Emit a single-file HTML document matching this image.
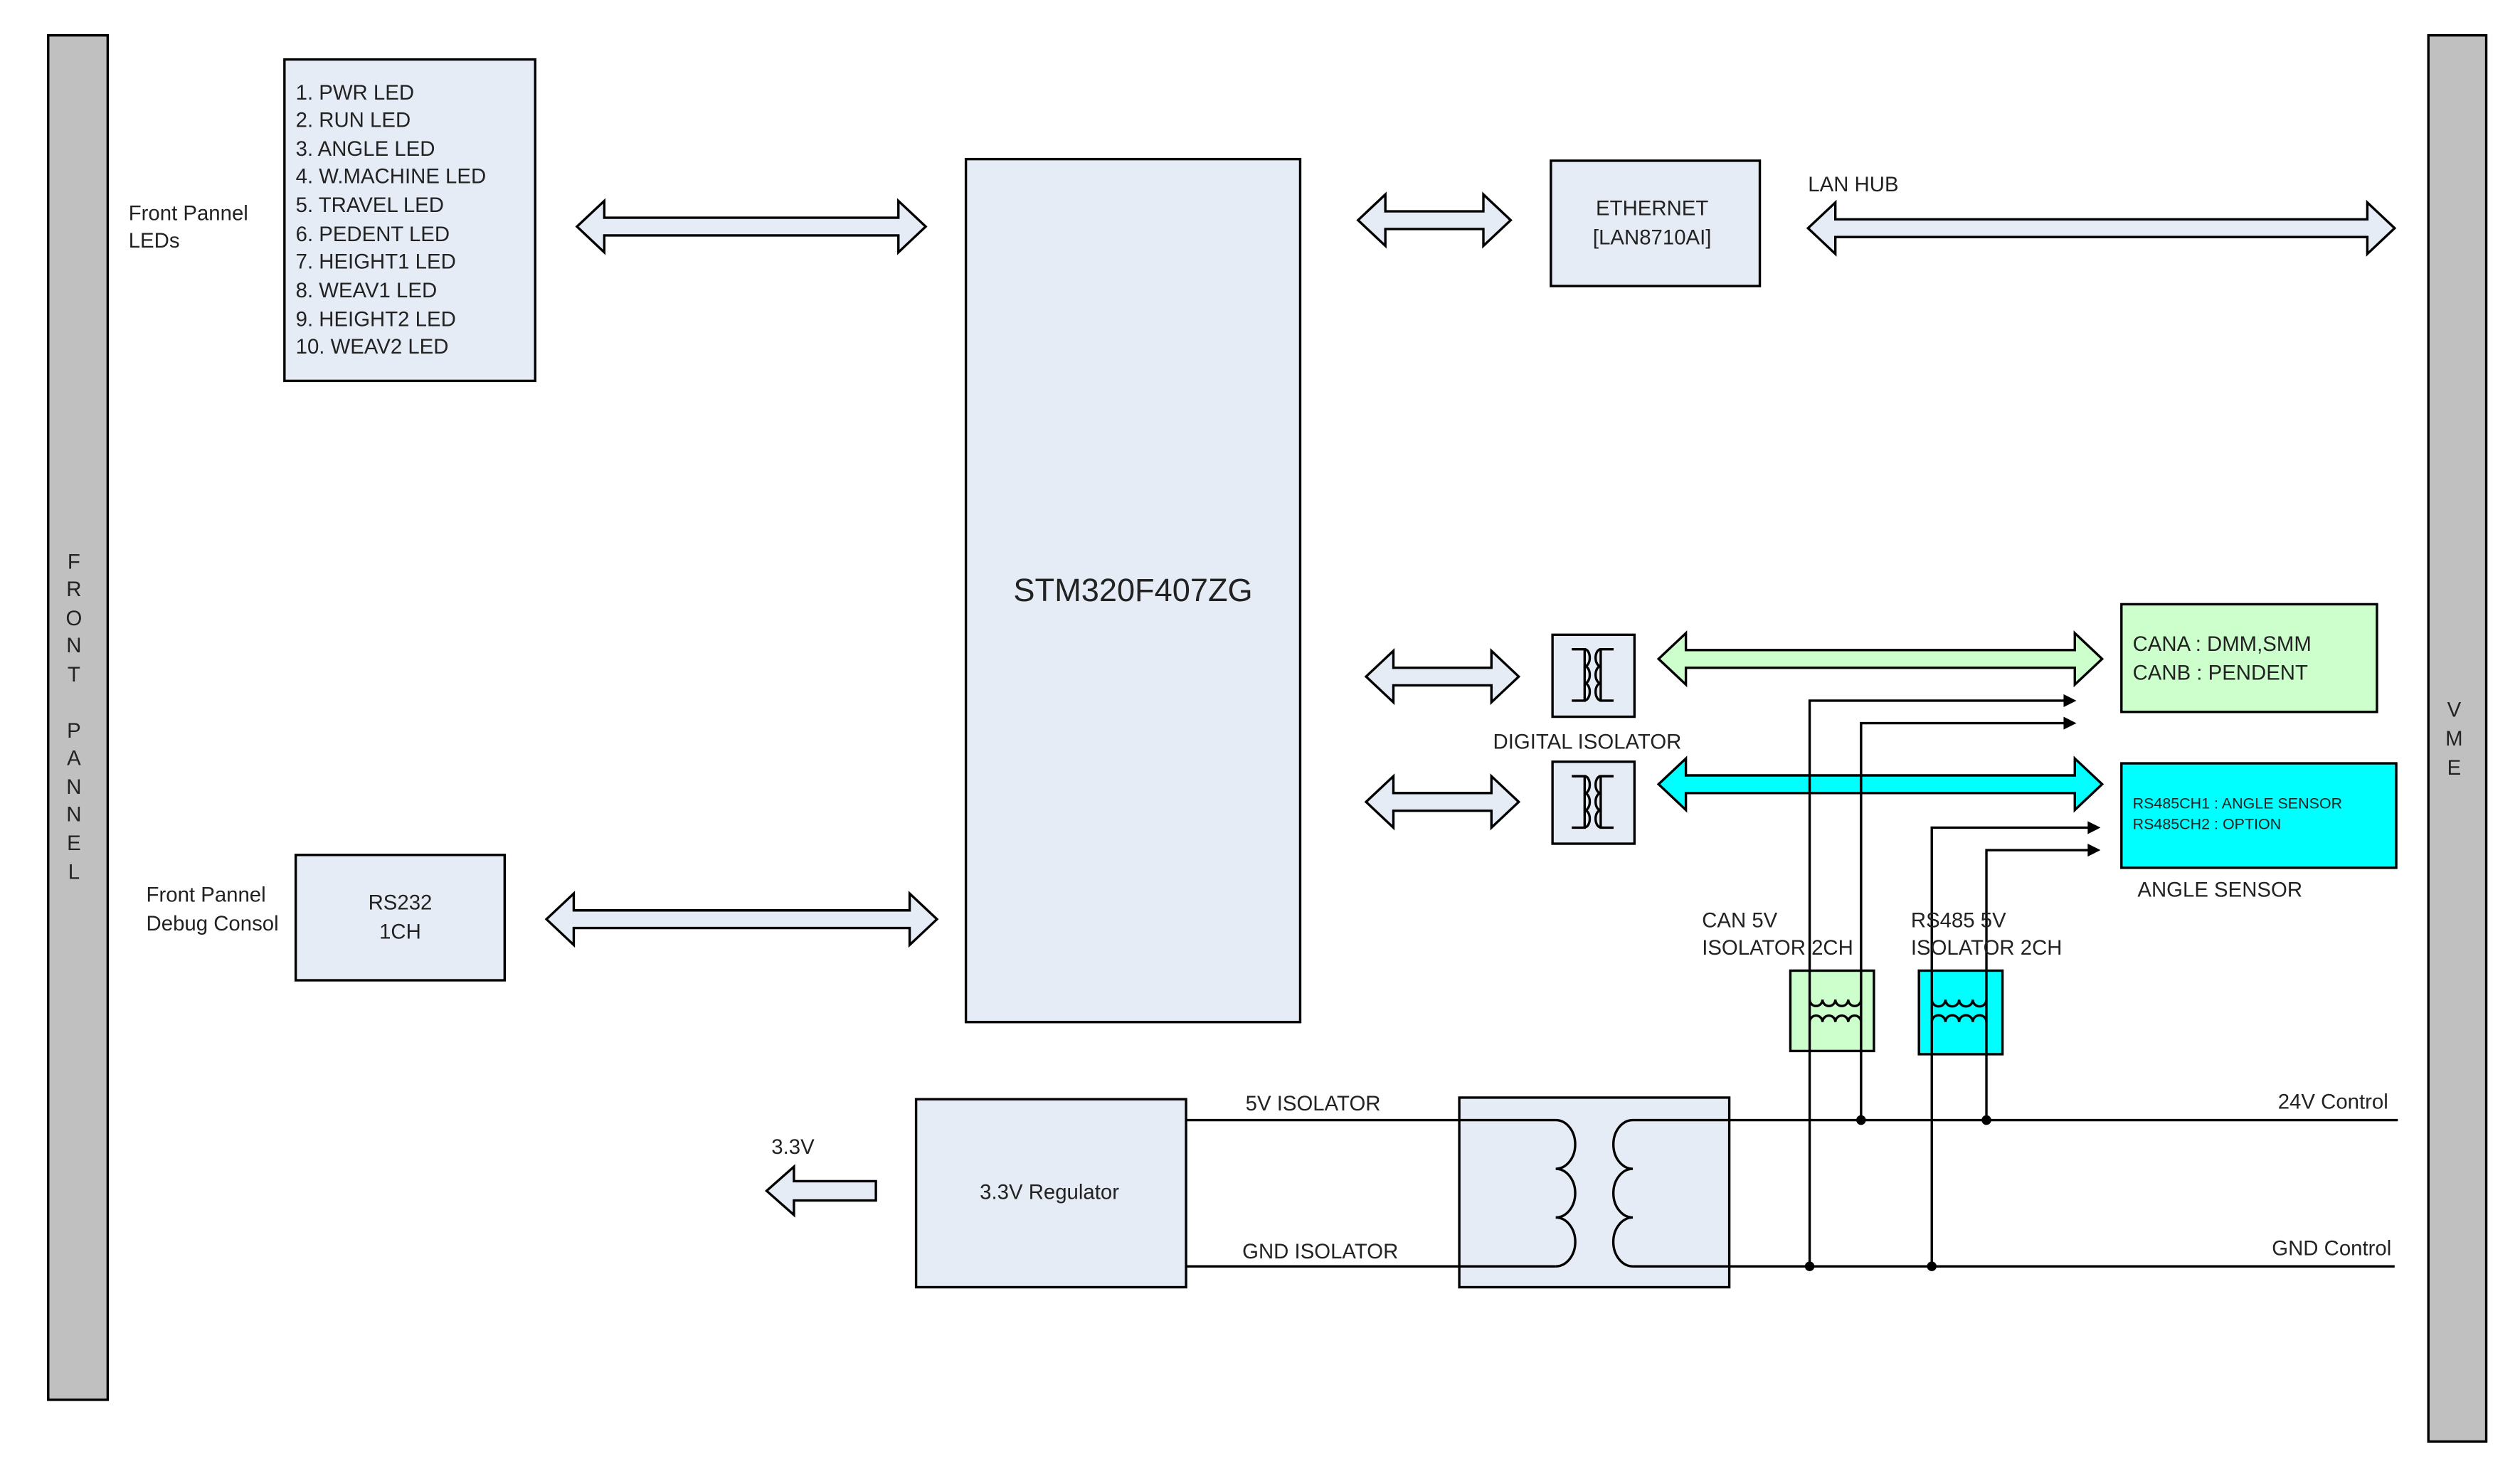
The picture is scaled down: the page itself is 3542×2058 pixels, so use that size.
<!DOCTYPE html>
<html><head><meta charset="utf-8"><style>
html,body{margin:0;padding:0;background:#fff}
svg{display:block}
text{font-family:"Liberation Sans",sans-serif;fill:#222}
</style></head><body>
<svg width="3542" height="2058" viewBox="0 0 1568 911" preserveAspectRatio="none" xmlns="http://www.w3.org/2000/svg">
<g stroke="#000" stroke-width="1.5">
<rect x="30" y="22" width="37" height="849" fill="#c0c0c0"/>
<rect x="1511" y="22" width="36" height="875" fill="#c0c0c0"/>
<rect x="177" y="37" width="156" height="200" fill="#e6ecf6"/>
<rect x="601" y="99" width="208" height="537" fill="#e6ecf6"/>
<rect x="965" y="100" width="130" height="78" fill="#e6ecf6"/>
<rect x="966" y="395" width="51" height="51" fill="#e6ecf6"/>
<rect x="966" y="474" width="51" height="51" fill="#e6ecf6"/>
<rect x="1320" y="376" width="159" height="67" fill="#ccffcc"/>
<rect x="1320" y="475" width="171" height="65" fill="#00ffff"/>
<rect x="184" y="532" width="130" height="78" fill="#e6ecf6"/>
<rect x="570" y="684" width="168" height="117" fill="#e6ecf6"/>
<rect x="908" y="683" width="168" height="118" fill="#e6ecf6"/>
<rect x="1114" y="604" width="52" height="50" fill="#ccffcc"/>
<rect x="1194" y="604" width="52" height="52" fill="#00ffff"/>
</g>
<g stroke="#000" stroke-width="1.5" fill="#e6ecf6">
<polygon points="359,141 376,125 376,135.5 559,135.5 559,125 576,141 559,157 559,146.5 376,146.5 376,157"/>
<polygon points="845,137 862,121 862,131.5 923,131.5 923,121 940,137 923,153 923,142.5 862,142.5 862,153"/>
<polygon points="1125,142 1142,126 1142,136.5 1473,136.5 1473,126 1490,142 1473,158 1473,147.5 1142,147.5 1142,158"/>
<polygon points="850,421 867,405 867,415.5 928,415.5 928,405 945,421 928,437 928,426.5 867,426.5 867,437"/>
<polygon points="850,499 867,483 867,493.5 928,493.5 928,483 945,499 928,515 928,504.5 867,504.5 867,515"/>
<polygon fill="#ccffcc" points="1032,410 1049,394 1049,404.5 1291,404.5 1291,394 1308,410 1291,426 1291,415.5 1049,415.5 1049,426"/>
<polygon fill="#00ffff" points="1032,488 1049,472 1049,482.5 1291,482.5 1291,472 1308,488 1291,504 1291,493.5 1049,493.5 1049,504"/>
<polygon points="340,572 357,556 357,566.5 566,566.5 566,556 583,572 566,588 566,577.5 357,577.5 357,588"/>
<polygon points="477,741 494,726 494,735 545,735 545,747 494,747 494,756"/>
</g>
<g stroke="#000" stroke-width="1.5" fill="none">
<path d="M978,404 H986 V436 H978 M986,404 a3,5 0 0 1 0,10.6 a3,5 0 0 1 0,10.6 a3,5 0 0 1 0,10.6"/>
<path d="M1004,404 H996 V436 H1004 M996,404 a3,5 0 0 0 0,10.6 a3,5 0 0 0 0,10.6 a3,5 0 0 0 0,10.6"/>
<path d="M978,483 H986 V515 H978 M986,483 a3,5 0 0 1 0,10.6 a3,5 0 0 1 0,10.6 a3,5 0 0 1 0,10.6"/>
<path d="M1004,483 H996 V515 H1004 M996,483 a3,5 0 0 0 0,10.6 a3,5 0 0 0 0,10.6 a3,5 0 0 0 0,10.6"/>
<path d="M738,697 H968 M1016,697 H1492 M738,788 H968 M1016,788 H1490"/>
<path d="M968,697 a12,15 0 0 1 0,30.3 a12,15 0 0 1 0,30.3 a12,15 0 0 1 0,30.4"/>
<path d="M1016,697 a12,15 0 0 0 0,30.3 a12,15 0 0 0 0,30.3 a12,15 0 0 0 0,30.4"/>
<path d="M1126,788 V436 H1286 M1158,697 V450 H1286 M1202,788 V515 H1301 M1236,697 V529 H1301"/>
<path d="M1126,622 a4,4 0 0 0 8,0 a4,4 0 0 0 8,0 a4,4 0 0 0 8,0 a4,4 0 0 0 8,0"/>
<path d="M1126,636 a4,4 0 0 1 8,0 a4,4 0 0 1 8,0 a4,4 0 0 1 8,0 a4,4 0 0 1 8,0"/>
<path d="M1202,622 a4,4 0 0 0 8.5,0 a4,4 0 0 0 8.5,0 a4,4 0 0 0 8.5,0 a4,4 0 0 0 8.5,0"/>
<path d="M1202,636 a4,4 0 0 1 8.5,0 a4,4 0 0 1 8.5,0 a4,4 0 0 1 8.5,0 a4,4 0 0 1 8.5,0"/>
</g>
<g fill="#000">
<polygon points="1284,432 1292,436 1284,440"/>
<polygon points="1284,446 1292,450 1284,454"/>
<polygon points="1299,511 1307,515 1299,519"/>
<polygon points="1299,525 1307,529 1299,533"/>
<circle cx="1158" cy="697" r="3"/><circle cx="1236" cy="697" r="3"/>
<circle cx="1126" cy="788" r="3"/><circle cx="1202" cy="788" r="3"/>
</g>
<g font-size="13">
<text x="184" y="62">1. PWR LED</text>
<text x="184" y="79">2. RUN LED</text>
<text x="184" y="97">3. ANGLE LED</text>
<text x="184" y="114">4. W.MACHINE LED</text>
<text x="184" y="132">5. TRAVEL LED</text>
<text x="184" y="150">6. PEDENT LED</text>
<text x="184" y="167">7. HEIGHT1 LED</text>
<text x="184" y="185">8. WEAV1 LED</text>
<text x="184" y="203">9. HEIGHT2 LED</text>
<text x="184" y="220">10. WEAV2 LED</text>
<text x="80" y="137">Front Pannel</text>
<text x="80" y="154">LEDs</text>
<text x="705" y="374" font-size="20" text-anchor="middle">STM320F407ZG</text>
<text x="1028" y="134" text-anchor="middle">ETHERNET</text>
<text x="1028" y="152" text-anchor="middle">[LAN8710AI]</text>
<text x="1125" y="119">LAN HUB</text>
<text x="929" y="466">DIGITAL ISOLATOR</text>
<text x="1327" y="405">CANA : DMM,SMM</text>
<text x="1327" y="423">CANB : PENDENT</text>
<text x="1327" y="503" font-size="9.5">RS485CH1 : ANGLE SENSOR</text>
<text x="1327" y="516" font-size="9.5">RS485CH2 : OPTION</text>
<text x="1330" y="558">ANGLE SENSOR</text>
<text x="1059" y="577">CAN 5V</text>
<text x="1059" y="594">ISOLATOR 2CH</text>
<text x="1189" y="577">RS485 5V</text>
<text x="1189" y="594">ISOLATOR 2CH</text>
<text x="91" y="561">Front Pannel</text>
<text x="91" y="579">Debug Consol</text>
<text x="249" y="566" text-anchor="middle">RS232</text>
<text x="249" y="584" text-anchor="middle">1CH</text>
<text x="480" y="718">3.3V</text>
<text x="653" y="746" text-anchor="middle">3.3V Regulator</text>
<text x="775" y="691">5V ISOLATOR</text>
<text x="773" y="783">GND ISOLATOR</text>
<text x="1486" y="690" text-anchor="end">24V Control</text>
<text x="1488" y="781" text-anchor="end">GND Control</text>
</g>
<g font-size="13" text-anchor="middle">
<text x="46" y="354">F</text><text x="46" y="371">R</text><text x="46" y="389">O</text><text x="46" y="406">N</text><text x="46" y="424">T</text>
<text x="46" y="459">P</text><text x="46" y="476">A</text><text x="46" y="494">N</text><text x="46" y="511">N</text><text x="46" y="529">E</text><text x="46" y="547">L</text>
<text x="1527" y="446">V</text><text x="1527" y="464">M</text><text x="1527" y="482">E</text>
</g>
</svg>
</body></html>
